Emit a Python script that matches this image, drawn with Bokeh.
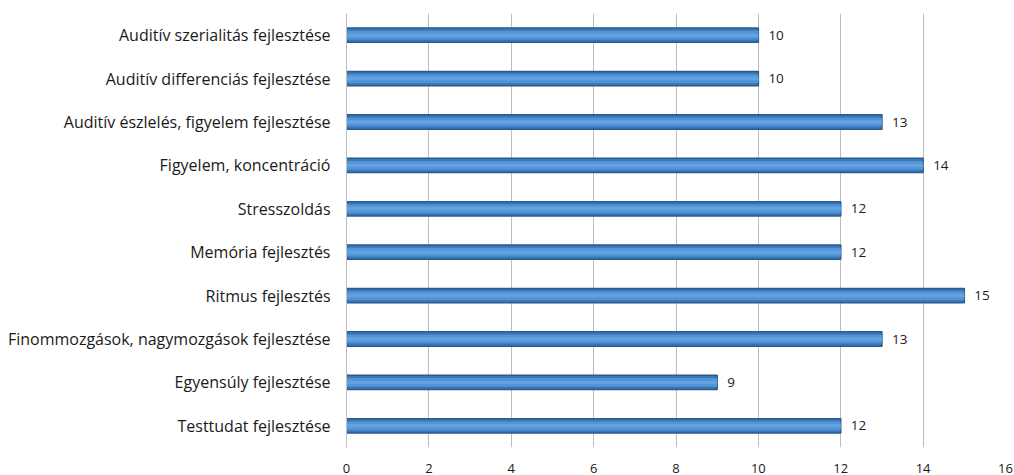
from bokeh.plotting import figure
from bokeh.models import ColumnDataSource, FactorRange, Range1d, FixedTicker, LabelSet
from bokeh.core.properties import value
from bokeh.embed import file_html
from bokeh.resources import INLINE

# Fejlesztési területek (felülről lefelé) és előfordulásuk
categories = [
    "Auditív szerialitás fejlesztése",
    "Auditív differenciás fejlesztése",
    "Auditív észlelés, figyelem fejlesztése",
    "Figyelem, koncentráció",
    "Stresszoldás",
    "Memória fejlesztés",
    "Ritmus fejlesztés",
    "Finommozgások, nagymozgások fejlesztése",
    "Egyensúly fejlesztése",
    "Testtudat fejlesztése",
]
values = [10, 10, 13, 14, 12, 12, 15, 13, 9, 12]
x_ticks = [0, 2, 4, 6, 8, 10, 12, 14, 16]

source = ColumnDataSource(dict(
    cat=categories,
    val=values,
    lbl=[str(v) for v in values],
))

p = figure(
    width=1014, height=475,
    y_range=FactorRange(*reversed(categories)),
    x_range=Range1d(0, 16),
    output_backend="svg", toolbar_location=None,
    min_border_left=346, min_border_right=9,
    min_border_top=13, min_border_bottom=27,
)

# Bars: dark outline with lighter centre for a shaded look
p.hbar(y="cat", right="val", left=0, height=0.33, source=source,
       fill_color="#3B78BA", line_color="#2A5B8F", line_width=1.5)
p.hbar(y="cat", right="val", left=0, height=0.2, source=source,
       fill_color="#5294D6", line_color=None)
p.hbar(y="cat", right="val", left=0, height=0.08, source=source,
       fill_color="#62A2E0", line_color=None)

labels = LabelSet(x="val", y="cat", text="lbl", source=source,
                  x_offset=10, y_offset=0, text_baseline="middle",
                  text_font=value("Open Sans"), text_font_size=value("13.5px"),
                  text_color=value("#1A1A1A"))
p.add_layout(labels)

p.outline_line_color = None
p.ygrid.grid_line_color = None
p.xgrid.grid_line_color = "#BEBEBE"
p.xgrid.grid_line_width = 1
p.xaxis.ticker = FixedTicker(ticks=x_ticks)
p.xaxis.axis_line_color = None
p.xaxis.major_tick_line_color = None
p.xaxis.minor_tick_line_color = None
p.xaxis.major_label_standoff = 10
p.xaxis.major_label_text_font = "Open Sans"
p.xaxis.major_label_text_font_size = "13px"
p.xaxis.major_label_text_color = "#1A1A1A"

p.yaxis.axis_line_color = "#BEBEBE"
p.yaxis.axis_line_width = 1
p.yaxis.major_tick_line_color = None
p.yaxis.minor_tick_line_color = None
p.yaxis.major_label_standoff = 10
p.yaxis.major_label_text_font = "Open Sans"
p.yaxis.major_label_text_font_size = "16px"
p.yaxis.major_label_text_color = "#1A1A1A"

open("out.html", "w").write(file_html(p, INLINE))
